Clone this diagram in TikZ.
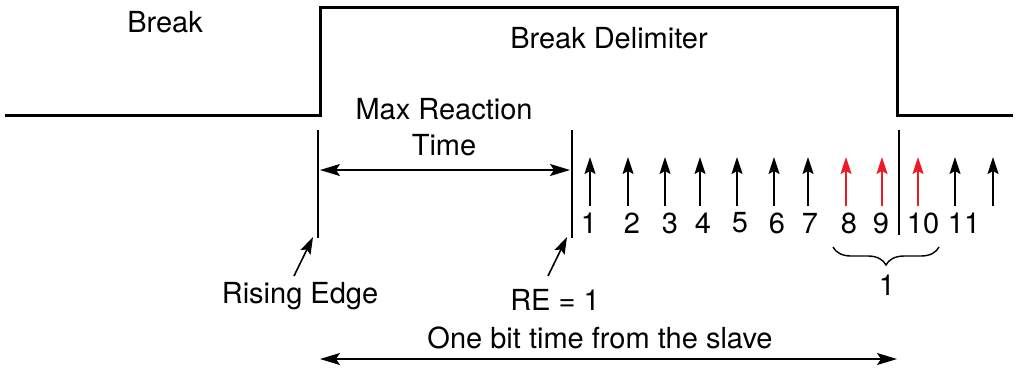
\documentclass[tikz,border=0pt]{standalone}
\usepackage{fontspec}
\setmainfont{TeX Gyre Heros}
\usetikzlibrary{arrows.meta, decorations.pathreplacing}
\definecolor{bitred}{RGB}{237,28,36}

\begin{document}
\begin{tikzpicture}[x=0.5pt, y=-0.5pt, font=\fontsize{14.5}{17}\selectfont,
  signal/.style={line width=1.5pt},
  marker/.style={line width=0.7pt},
  sample/.style={line width=0.8pt, -{Stealth[length=8.5pt,width=5.5pt,inset=1.5pt]}},
  span/.style={line width=0.7pt, {Stealth[length=10pt,width=6pt,inset=2pt]}-{Stealth[length=10pt,width=6pt,inset=2pt]}}]
\useasboundingbox (0,0) rectangle (1016,371);
% bus level
\draw[signal] (5,115) -- (320,115) -- (320,7) -- (897,7) -- (897,115) -- (1013,115);
\node (brk) at (165,22) {Break};
\node (delim) at (609,38) {Break Delimiter};
% edges
\coordinate (rise top) at (318,130);
\coordinate (rise bot) at (318,238);
\coordinate (re top) at (572,130);
\coordinate (re bot) at (572,238);
\coordinate (end top) at (899,130);
\coordinate (end bot) at (899,235);
\draw[marker] (rise top) -- (rise bot);
\draw[marker] (re top) -- (re bot);
\draw[marker] (end top) -- (end bot);
\node[align=center] (maxrt) at (444,127) {Max Reaction\\[1pt]Time};
\coordinate (mr left) at (320,170);
\coordinate (mr right) at (570,170);
\draw[span] (mr left) -- (mr right);
% samples
\foreach \x/\c [count=\i] in {590/black,628/black,665/black,700/black,737/black,774/black,808/black,846/bitred,882/bitred,918/bitred,955/black,993/black}{
  \coordinate (tail\i) at (\x,206);
  \coordinate (tip\i) at (\x,157);
  \draw[sample, \c] (tail\i) -- (tip\i);
}
\foreach \x/\n in {589/1,632/2,670/3,703/4,740/5,777/6,810/7,849/8,881/9,923/10,964/11}
  \node (n\n) at (\x,223) {\n};
\coordinate (br left) at (833,247);
\coordinate (br right) at (939,247);
\draw[marker, decorate, decoration={brace, mirror, amplitude=9pt}] (br left) -- (br right);
\node (bits) at (887,285) {1};
% labels below
\node (rising) at (300,296) {Rising Edge};
\node (re) at (555,300) {RE = 1};
\coordinate (rising ptr) at (294,276);
\coordinate (re ptr) at (548,276);
\draw[sample] (rising ptr) -- (313,237);
\draw[sample] (re ptr) -- (567,237);
\node (onebit) at (600,338) {One bit time from the slave};
\coordinate (ob left) at (320,359);
\coordinate (ob right) at (897,359);
\draw[span] (ob left) -- (ob right);
\end{tikzpicture}
\end{document}
